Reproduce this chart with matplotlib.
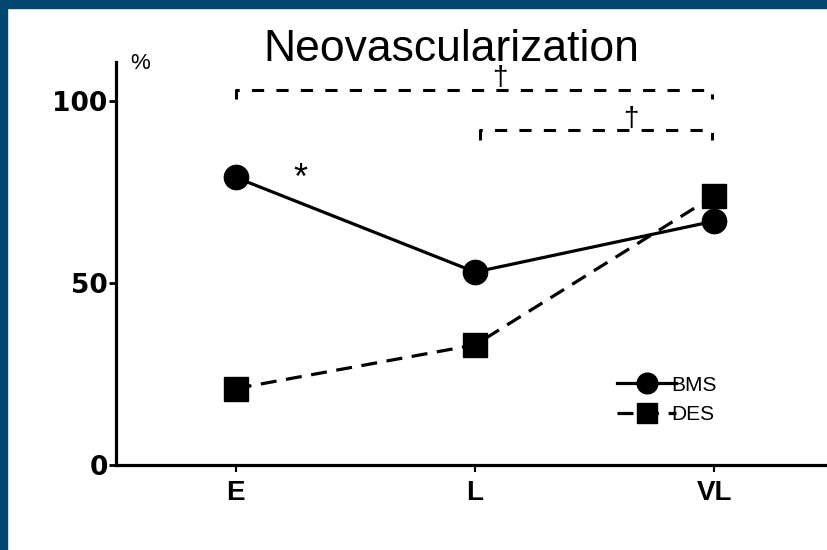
import matplotlib
matplotlib.use('Agg')
import matplotlib.pyplot as plt
from matplotlib.patches import Rectangle

# Data
groups = ['E', 'L', 'VL']
bms = [79, 53, 67]
des = [21, 33, 74]
y_ticks = [0, 50, 100]

plt.rcParams['font.family'] = ['Liberation Sans', 'DejaVu Sans']

fig = plt.figure(figsize=(8.27, 5.5), dpi=100)
fig.patch.set_facecolor('white')

# dark blue slide frame (top and left edges)
frame_blue = '#03466F'
fig.patches.append(Rectangle((0, 1 - 8 / 550), 1, 8 / 550, transform=fig.transFigure,
                             color=frame_blue, zorder=0))
fig.patches.append(Rectangle((0, 0), 7 / 827, 1, transform=fig.transFigure,
                             color=frame_blue, zorder=0))

ax = fig.add_axes([116 / 827, 85 / 550, 711 / 827, 403 / 550])
x = list(range(len(groups)))

ax.plot(x, bms, color='black', lw=2.3, marker='o', ms=17.5, label='BMS', zorder=3)
ax.plot(x, des, color='black', lw=2.3, ls=(0, (5, 3)), marker='s', ms=17.5,
        label='DES', zorder=3)

ax.set_xlim(-0.5, 2.47)
ax.set_ylim(0, 110.7)

for side in ['top', 'right']:
    ax.spines[side].set_visible(False)
for side in ['left', 'bottom']:
    ax.spines[side].set_linewidth(2.3)

ax.set_xticks(x)
ax.set_xticklabels(groups, fontsize=20, fontweight='bold')
ax.set_yticks(y_ticks)
ax.set_yticklabels([str(v) for v in y_ticks], fontsize=19, fontweight='bold',
                   family='DejaVu Sans')
ax.tick_params(axis='y', length=5, width=2, pad=1)
ax.tick_params(axis='x', length=5, width=1.5, pad=6)

ax.text(-0.4, 110.3, '%', fontsize=16, ha='center', va='center', clip_on=False)
fig.text(451 / 827, 1 - 61 / 550, 'Neovascularization', fontsize=32,
         ha='center', va='baseline')

# significance marks
ax.text(0.27, 78.5, '*', fontsize=26, ha='center', va='center')

bracket_style = dict(color='black', lw=2.2, ls=(0, (4, 4)), clip_on=False)
ax.plot([0, 0, 1.99, 1.99], [100.5, 103, 103, 100.5], **bracket_style)
ax.plot([1.02, 1.02, 1.99, 1.99], [89.3, 92, 92, 89.3], **bracket_style)
ax.text(1.105, 102.6, '\u2020', fontsize=20, ha='center', va='bottom')
ax.text(1.65, 91.6, '\u2020', fontsize=20, ha='center', va='bottom')

ax.legend(loc='center left', bbox_to_anchor=(607 / 827, 1 - 400 / 550),
          bbox_transform=fig.transFigure, frameon=False, fontsize=15,
          handlelength=2.8, handletextpad=-0.2, markerscale=0.85,
          labelspacing=0.5, borderpad=0)

fig.savefig('out.png', dpi=100, facecolor='white')
